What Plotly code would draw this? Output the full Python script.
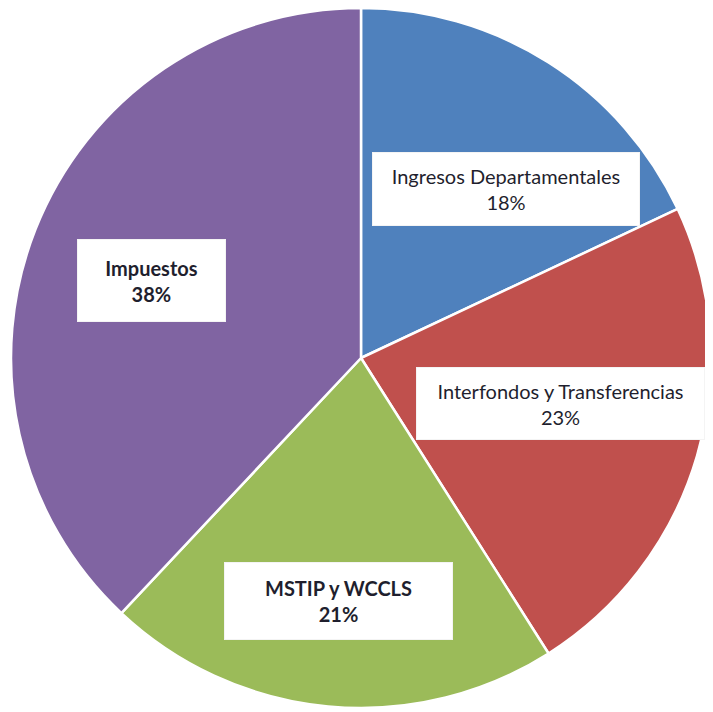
import plotly.graph_objects as go

# Data
labels = ["Ingresos Departamentales", "Interfondos y Transferencias", "MSTIP y WCCLS", "Impuestos"]
values = [18, 23, 21, 38]

# Styles
colors = ["#4F81BD", "#C0504D", "#9BBB59", "#8064A2"]
bold = [False, False, True, True]

# the page body adds an 8px offset; figure sized to fit the window
OFF = 8
W, H = 705, 704
ML, MR, MT, MB = 3, 2, 0, 4
PW, PH = W - ML - MR, H - MT - MB

# label box placement (window pixel centre, width, height)
boxes = [
    (506, 189, 268, 74),
    (560.5, 403.5, 289, 73),
    (338.5, 601, 229, 78),
    (151.5, 280.5, 149, 83),
]

fig = go.Figure(go.Pie(
    labels=labels,
    values=values,
    sort=False,
    direction="clockwise",
    rotation=0,
    marker=dict(colors=colors, line=dict(color="white", width=2.5)),
    textinfo="none",
    hoverinfo="label+percent",
    showlegend=False,
))

annotations = []
for lab, val, b, (cx, cy, bw, bh) in zip(labels, values, bold, boxes):
    txt = f"{lab}<br>{val}%"
    if b:
        txt = f"<b>{lab}</b><br><b>{val}%</b>"
    annotations.append(dict(
        x=(cx - OFF - ML) / PW, y=1 - (cy - OFF - MT) / PH,
        xref="paper", yref="paper",
        xanchor="center", yanchor="middle",
        text=txt, showarrow=False,
        width=bw - 2, height=bh - 2,
        align="center", valign="middle",
        bgcolor="white", bordercolor="#f4f4f4", borderwidth=1, borderpad=0,
        font=dict(family="Lato, 'Open Sans', sans-serif", size=20, color="#1f1f2e"),
    ))

fig.update_layout(
    width=W, height=H,
    margin=dict(l=ML, r=MR, t=MT, b=MB),
    paper_bgcolor="white",
    plot_bgcolor="white",
    annotations=annotations,
)

fig.write_html("out.html")
